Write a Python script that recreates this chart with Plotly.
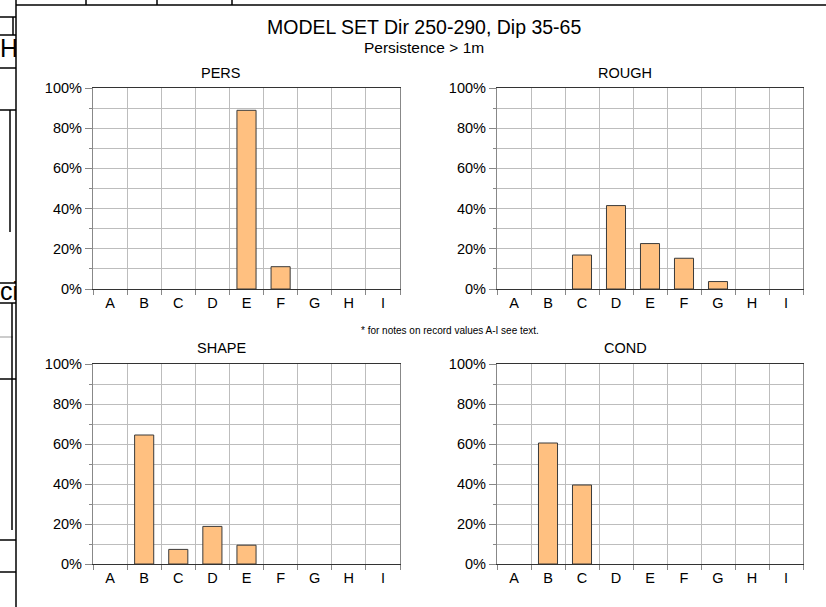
import plotly.graph_objects as go

# ---------------- data ----------------
categories = ["A", "B", "C", "D", "E", "F", "G", "H", "I"]
pers_values = [0, 0, 0, 0, 0.889, 0.111, 0, 0, 0]
rough_values = [0, 0, 0.169, 0.415, 0.226, 0.153, 0.037, 0, 0]
shape_values = [0, 0.645, 0.073, 0.188, 0.094, 0, 0, 0, 0]
cond_values = [0, 0.605, 0.395, 0, 0, 0, 0, 0, 0]
panel_titles = ["PERS", "ROUGH", "SHAPE", "COND"]
y_tick_vals = [0, 0.2, 0.4, 0.6, 0.8, 1.0]
y_tick_text = ["0%", "20%", "40%", "60%", "80%", "100%"]
main_title = "MODEL SET Dir 250-290, Dip 35-65"
sub_title = "Persistence > 1m"
footnote = "* for notes on record values A-I see text."

# ---------------- layout helpers ----------------
W, H = 826, 607
FONT = "Liberation Sans, Arial, sans-serif"


def px(x):
    return x / W


def py(y):
    return 1 - y / H


# plot boxes in pixels: x0, x1, y_top, y_bottom
boxes = [(93, 400, 88, 289), (497, 803, 88, 289), (93, 400, 364, 564), (497, 803, 364, 564)]
title_pos = [(221, 73), (625, 73), (221, 348), (625, 348)]
series = [pers_values, rough_values, shape_values, cond_values]

fig = go.Figure()
layout = dict(
    width=W, height=H, autosize=False,
    margin=dict(l=0, r=0, t=0, b=0, pad=0, autoexpand=False),
    paper_bgcolor="white", plot_bgcolor="white",
    showlegend=False,
    font=dict(family=FONT, size=14, color="black"),
)

annotations = []
for i, (vals, box, ttl, tp) in enumerate(zip(series, boxes, panel_titles, title_pos)):
    n = i + 1
    xa = "x" if n == 1 else f"x{n}"
    ya = "y" if n == 1 else f"y{n}"
    # zero-height bars are not drawn in the original
    shown = [v if v > 0 else None for v in vals]
    fig.add_trace(go.Bar(
        x=categories, y=shown, xaxis=xa, yaxis=ya, width=0.56,
        marker=dict(color="#FFC080", line=dict(color="#3a3a3a", width=1)),
        hoverinfo="x+y",
    ))
    x0, x1, yt, yb = box
    layout[f"xaxis{'' if n == 1 else n}"] = dict(
        domain=[px(x0), px(x1)], anchor=ya, automargin=False,
        type="category", categoryorder="array", categoryarray=categories,
        range=[-0.5, 8.5], tickson="boundaries",
        showgrid=True, gridcolor="#bdbdbd", gridwidth=1,
        showline=True, linecolor="#333333", linewidth=1.3, mirror=True,
        ticks="outside", ticklen=5, tickcolor="#888888",
        tickfont=dict(family=FONT, size=14.5, color="black"),
        zeroline=False, fixedrange=True,
    )
    layout[f"yaxis{'' if n == 1 else n}"] = dict(
        domain=[py(yb), py(yt)], anchor=xa, automargin=False,
        range=[0, 1], tickvals=y_tick_vals, ticktext=y_tick_text,
        showgrid=True, gridcolor="#bdbdbd", gridwidth=1,
        minor=dict(dtick=0.1, showgrid=True, gridcolor="#bdbdbd", ticks="outside",
                   ticklen=3, tickcolor="#888888"),
        showline=True, linecolor="#888888", linewidth=1.3, mirror=True,
        ticks="outside", ticklen=7, tickcolor="#888888",
        tickfont=dict(family=FONT, size=14.5, color="black"),
        zeroline=False, fixedrange=True,
    )
    annotations.append(dict(
        text=ttl, x=px(tp[0]), y=py(tp[1]), xref="paper", yref="paper",
        xanchor="center", yanchor="middle", showarrow=False,
        font=dict(family=FONT, size=14.5, color="black"),
    ))

annotations += [
    dict(text=main_title, x=px(424), y=py(27), xref="paper", yref="paper",
         xanchor="center", yanchor="middle", showarrow=False,
         font=dict(family=FONT, size=19.5, color="black")),
    dict(text=sub_title, x=px(424), y=py(48), xref="paper", yref="paper",
         xanchor="center", yanchor="middle", showarrow=False,
         font=dict(family=FONT, size=15.5, color="black")),
    dict(text=footnote, x=px(450), y=py(330), xref="paper", yref="paper",
         xanchor="center", yanchor="middle", showarrow=False,
         font=dict(family=FONT, size=10, color="black")),
]
layout["annotations"] = annotations

# background spreadsheet fragments visible at the left edge (clipped text)
layout["xaxis5"] = dict(domain=[0, px(16)], range=[0, 16], visible=False, anchor="y5",
                        fixedrange=True, automargin=False)
layout["yaxis5"] = dict(domain=[0, 1], range=[H, 0], visible=False, anchor="x5",
                        fixedrange=True, automargin=False)
fig.add_trace(go.Scatter(
    x=[0, 0], y=[51, 294], text=["Ho", "ci"], mode="text", textposition="middle right",
    textfont=dict(family=FONT, size=25, color="black"), cliponaxis=True,
    xaxis="x5", yaxis="y5", hoverinfo="skip",
))

shapes = []


def hline(y, x0, x1, w=1.5, c="black"):
    shapes.append(dict(type="line", xref="paper", yref="paper",
                       x0=px(x0), x1=px(x1), y0=py(y), y1=py(y),
                       line=dict(color=c, width=w)))


def vline(x, y0, y1, w=1.5, c="black"):
    shapes.append(dict(type="line", xref="paper", yref="paper",
                       x0=px(x), x1=px(x), y0=py(y0), y1=py(y1),
                       line=dict(color=c, width=w)))


# chart frame
vline(16, 0, 607)
hline(5, 16, 826)
# cells above
for xx in (86, 157, 232):
    vline(xx, 0, 5)
# cells on the left
for yy in (17, 35, 68, 110, 283, 303, 379, 540, 572):
    hline(yy, 0, 16)
hline(337, 0, 13, w=1, c="#999999")
vline(13, 17, 35)
vline(10, 110, 232)
vline(12, 303, 530)
layout["shapes"] = shapes

fig.update_layout(**layout)
fig.write_html("out.html", config={"displayModeBar": False},
               post_script="document.body.style.margin='0';")
